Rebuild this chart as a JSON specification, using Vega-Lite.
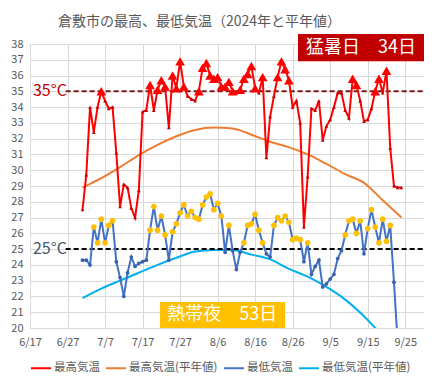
{
  "$schema": "https://vega.github.io/schema/vega-lite/v6.json",
  "width": 394,
  "height": 284,
  "autosize": {"type": "none"},
  "padding": {"left": 30, "top": 44, "right": 24, "bottom": 57},
  "background": "white",
  "config": {
    "font": "Noto Sans CJK JP",
    "view": {"stroke": null},
    "axis": {"domain": false, "ticks": false, "gridColor": "#D9D9D9", "gridWidth": 1, "labelColor": "#595959", "labelFontSize": 11, "labelOverlap": false, "labelFlush": false, "title": null},
    "axisX": {"labelOverlap": false, "labelFlush": false, "labelPadding": 8, "format": "%-m/%-d"},
    "axisY": {"labelOverlap": false, "labelPadding": 7},
    "legend": {"orient": "bottom", "direction": "horizontal", "title": null, "labelFontSize": 11.5, "labelColor": "#595959", "symbolType": "stroke", "symbolSize": 400, "symbolStrokeWidth": 2, "labelOffset": 2, "columnPadding": 2, "offset": 10}
  },
  "title": {"text": "倉敷市の最高、最低気温（2024年と平年値）", "anchor": "start", "frame": "group", "dx": 28, "offset": 5, "fontSize": 14, "fontWeight": "normal", "color": "#595959", "font": "Noto Sans CJK JP"},
  "datasets": {
    "obs": [
      {"d": "2024-07-01", "max": 27.5, "min": 24.3},
      {"d": "2024-07-02", "max": 29.7, "min": 24.3},
      {"d": "2024-07-03", "max": 34.0, "min": 24.0},
      {"d": "2024-07-04", "max": 32.4, "min": 26.4},
      {"d": "2024-07-05", "max": 34.0, "min": 25.4},
      {"d": "2024-07-06", "max": 35.0, "min": 26.9},
      {"d": "2024-07-07", "max": 34.4, "min": 25.4},
      {"d": "2024-07-08", "max": 33.9, "min": 26.5},
      {"d": "2024-07-09", "max": 34.0, "min": 26.8},
      {"d": "2024-07-10", "max": 31.1, "min": 24.2},
      {"d": "2024-07-11", "max": 27.7, "min": 23.2},
      {"d": "2024-07-12", "max": 29.1, "min": 22.0},
      {"d": "2024-07-13", "max": 28.9, "min": 23.5},
      {"d": "2024-07-14", "max": 27.6, "min": 24.5},
      {"d": "2024-07-15", "max": 27.0, "min": 23.9},
      {"d": "2024-07-16", "max": 28.7, "min": 24.1},
      {"d": "2024-07-17", "max": 33.7, "min": 24.2},
      {"d": "2024-07-18", "max": 33.8, "min": 24.3},
      {"d": "2024-07-19", "max": 35.4, "min": 26.2},
      {"d": "2024-07-20", "max": 33.8, "min": 27.7},
      {"d": "2024-07-21", "max": 35.1, "min": 26.2},
      {"d": "2024-07-22", "max": 35.7, "min": 27.1},
      {"d": "2024-07-23", "max": 35.3, "min": 25.9},
      {"d": "2024-07-24", "max": 32.7, "min": 24.3},
      {"d": "2024-07-25", "max": 36.0, "min": 26.1},
      {"d": "2024-07-26", "max": 35.2, "min": 26.6},
      {"d": "2024-07-27", "max": 36.9, "min": 27.3},
      {"d": "2024-07-28", "max": 35.3, "min": 27.8},
      {"d": "2024-07-29", "max": 34.7, "min": 27.1},
      {"d": "2024-07-30", "max": 34.5, "min": 27.4},
      {"d": "2024-07-31", "max": 34.4, "min": 27.0},
      {"d": "2024-08-01", "max": 35.0, "min": 26.9},
      {"d": "2024-08-02", "max": 36.5, "min": 27.8},
      {"d": "2024-08-03", "max": 36.8, "min": 28.3},
      {"d": "2024-08-04", "max": 36.0, "min": 28.5},
      {"d": "2024-08-05", "max": 35.8, "min": 27.5},
      {"d": "2024-08-06", "max": 35.9, "min": 27.9},
      {"d": "2024-08-07", "max": 35.3, "min": 27.1},
      {"d": "2024-08-08", "max": 35.3, "min": 24.8},
      {"d": "2024-08-09", "max": 35.6, "min": 26.5},
      {"d": "2024-08-10", "max": 35.0, "min": 24.9},
      {"d": "2024-08-11", "max": 34.9, "min": 23.7},
      {"d": "2024-08-12", "max": 35.1, "min": 24.8},
      {"d": "2024-08-13", "max": 35.8, "min": 25.4},
      {"d": "2024-08-14", "max": 36.1, "min": 26.5},
      {"d": "2024-08-15", "max": 36.6, "min": 26.6},
      {"d": "2024-08-16", "max": 35.2, "min": 27.2},
      {"d": "2024-08-17", "max": 34.9, "min": 26.2},
      {"d": "2024-08-18", "max": 35.9, "min": 25.4},
      {"d": "2024-08-19", "max": 30.8, "min": 24.7},
      {"d": "2024-08-20", "max": 33.4, "min": 24.5},
      {"d": "2024-08-21", "max": 34.7, "min": 26.5},
      {"d": "2024-08-22", "max": 35.9, "min": 27.0},
      {"d": "2024-08-23", "max": 36.9, "min": 26.8},
      {"d": "2024-08-24", "max": 36.4, "min": 27.1},
      {"d": "2024-08-25", "max": 35.7, "min": 26.7},
      {"d": "2024-08-26", "max": 34.0, "min": 25.6},
      {"d": "2024-08-27", "max": 34.4, "min": 25.7},
      {"d": "2024-08-28", "max": 33.0, "min": 25.6},
      {"d": "2024-08-29", "max": 26.4, "min": 24.2},
      {"d": "2024-08-30", "max": 29.6, "min": 25.4},
      {"d": "2024-08-31", "max": 33.9, "min": 23.4},
      {"d": "2024-09-01", "max": 33.8, "min": 23.9},
      {"d": "2024-09-02", "max": 34.4, "min": 24.3},
      {"d": "2024-09-03", "max": 31.9, "min": 22.6},
      {"d": "2024-09-04", "max": 32.8, "min": 22.8},
      {"d": "2024-09-05", "max": 33.2, "min": 23.1},
      {"d": "2024-09-06", "max": 34.0, "min": 23.4},
      {"d": "2024-09-07", "max": 34.9, "min": 24.4},
      {"d": "2024-09-08", "max": 34.9, "min": 24.9},
      {"d": "2024-09-09", "max": 33.8, "min": 25.9},
      {"d": "2024-09-10", "max": 33.3, "min": 26.8},
      {"d": "2024-09-11", "max": 35.8, "min": 26.9},
      {"d": "2024-09-12", "max": 35.4, "min": 26.0},
      {"d": "2024-09-13", "max": 34.4, "min": 26.8},
      {"d": "2024-09-14", "max": 33.1, "min": 24.7},
      {"d": "2024-09-15", "max": 33.2, "min": 26.3},
      {"d": "2024-09-16", "max": 33.9, "min": 27.5},
      {"d": "2024-09-17", "max": 35.0, "min": 26.4},
      {"d": "2024-09-18", "max": 35.8, "min": 25.4},
      {"d": "2024-09-19", "max": 34.9, "min": 26.9},
      {"d": "2024-09-20", "max": 36.3, "min": 25.5},
      {"d": "2024-09-21", "max": 31.4, "min": 26.5},
      {"d": "2024-09-22", "max": 29.0, "min": 22.9},
      {"d": "2024-09-23", "max": 28.9, "min": 19.0},
      {"d": "2024-09-24", "max": 28.9}
    ],
    "normal": [
      {"d": "2024-07-01", "nmax": 28.9, "nmin": 21.9},
      {"d": "2024-07-06", "nmax": 29.5, "nmin": 22.5},
      {"d": "2024-07-11", "nmax": 30.2, "nmin": 23.0},
      {"d": "2024-07-16", "nmax": 30.95, "nmin": 23.5},
      {"d": "2024-07-21", "nmax": 31.6, "nmin": 24.0},
      {"d": "2024-07-26", "nmax": 32.15, "nmin": 24.45},
      {"d": "2024-07-31", "nmax": 32.55, "nmin": 24.85},
      {"d": "2024-08-05", "nmax": 32.7, "nmin": 24.95},
      {"d": "2024-08-10", "nmax": 32.65, "nmin": 24.95},
      {"d": "2024-08-15", "nmax": 32.25, "nmin": 24.65},
      {"d": "2024-08-20", "nmax": 31.8, "nmin": 24.35},
      {"d": "2024-08-25", "nmax": 31.45, "nmin": 23.75},
      {"d": "2024-08-30", "nmax": 31.0, "nmin": 23.25},
      {"d": "2024-09-04", "nmax": 30.4, "nmin": 22.6},
      {"d": "2024-09-09", "nmax": 29.75, "nmin": 21.8},
      {"d": "2024-09-14", "nmax": 29.2, "nmin": 20.75},
      {"d": "2024-09-19", "nmax": 28.1, "nmin": 19.5},
      {"d": "2024-09-24", "nmax": 27.0, "nmin": 18.3}
    ]
  },
  "encoding": {
    "x": {"type": "temporal", "title": null,
      "scale": {"type": "utc", "domain": [{"year": 2024, "month": 6, "date": 17, "utc": true}, {"year": 2024, "month": 9, "date": 30, "utc": true}]},
      "axis": {"format": "%-m/%-d", "labelOverlap": false, "labelFlush": false,
        "values": [
          {"year": 2024, "month": 6, "date": 17, "utc": true},
          {"year": 2024, "month": 6, "date": 27, "utc": true},
          {"year": 2024, "month": 7, "date": 7, "utc": true},
          {"year": 2024, "month": 7, "date": 17, "utc": true},
          {"year": 2024, "month": 7, "date": 27, "utc": true},
          {"year": 2024, "month": 8, "date": 6, "utc": true},
          {"year": 2024, "month": 8, "date": 16, "utc": true},
          {"year": 2024, "month": 8, "date": 26, "utc": true},
          {"year": 2024, "month": 9, "date": 5, "utc": true},
          {"year": 2024, "month": 9, "date": 15, "utc": true},
          {"year": 2024, "month": 9, "date": 25, "utc": true}
        ]}},
    "y": {"type": "quantitative", "title": null,
      "scale": {"domain": [20, 38], "nice": false, "zero": false},
      "axis": {"values": [20,21,22,23,24,25,26,27,28,29,30,31,32,33,34,35,36,37,38], "labelOverlap": false, "labelFlush": false}}
  },
  "layer": [
    {
      "data": {"name": "normal"},
      "mark": {"type": "line", "strokeWidth": 2, "interpolate": "monotone", "clip": true},
      "encoding": {
        "x": {"field": "d"},
        "y": {"field": "nmax"},
        "color": {"datum": "最高気温(平年値)",
          "scale": {"domain": ["最高気温", "最高気温(平年値)", "最低気温", "最低気温(平年値)"], "range": ["#FF0000", "#ED7D31", "#4472C4", "#00B0F0"]}}
      }
    },
    {
      "data": {"name": "normal"},
      "mark": {"type": "line", "strokeWidth": 2, "interpolate": "monotone", "clip": true},
      "encoding": {
        "x": {"field": "d"},
        "y": {"field": "nmin"},
        "color": {"datum": "最低気温(平年値)"}
      }
    },
    {
      "data": {"values": [{}]},
      "mark": {"type": "rule", "color": "#7A1A1A", "strokeWidth": 2, "strokeDash": [5, 3]},
      "encoding": {
        "x": {"datum": {"year": 2024, "month": 6, "date": 26, "hours": 12, "utc": true}},
        "x2": {"datum": {"year": 2024, "month": 9, "date": 30, "utc": true}},
        "y": {"datum": 35}
      }
    },
    {
      "data": {"values": [{}]},
      "mark": {"type": "rule", "color": "#000000", "strokeWidth": 2, "strokeDash": [5, 3]},
      "encoding": {
        "x": {"datum": {"year": 2024, "month": 6, "date": 26, "hours": 12, "utc": true}},
        "x2": {"datum": {"year": 2024, "month": 9, "date": 30, "utc": true}},
        "y": {"datum": 25}
      }
    },
    {
      "data": {"values": [{}]},
      "mark": {"type": "text", "text": "35°C", "color": "#C00000", "fontSize": 16, "align": "left", "baseline": "middle"},
      "encoding": {
        "x": {"datum": {"year": 2024, "month": 6, "date": 17, "hours": 19, "utc": true}},
        "y": {"datum": 35}
      }
    },
    {
      "data": {"values": [{}]},
      "mark": {"type": "text", "text": "25°C", "color": "#44546A", "fontSize": 16, "align": "left", "baseline": "middle"},
      "encoding": {
        "x": {"datum": {"year": 2024, "month": 6, "date": 17, "hours": 19, "utc": true}},
        "y": {"datum": 25}
      }
    },
    {
      "data": {"name": "obs"},
      "mark": {"type": "line", "strokeWidth": 2, "clip": true},
      "encoding": {
        "x": {"field": "d"},
        "y": {"field": "min"},
        "color": {"datum": "最低気温"}
      }
    },
    {
      "data": {"name": "obs"},
      "mark": {"type": "point", "shape": "circle", "filled": true, "size": 14, "color": "#3A62A8", "opacity": 1, "clip": true},
      "encoding": {
        "x": {"field": "d"},
        "y": {"field": "min"}
      }
    },
    {
      "data": {"name": "obs"},
      "transform": [{"filter": "datum.min >= 25"}],
      "mark": {"type": "point", "shape": "circle", "filled": true, "size": 32, "color": "#FFC000", "opacity": 1},
      "encoding": {
        "x": {"field": "d"},
        "y": {"field": "min"}
      }
    },
    {
      "data": {"name": "obs"},
      "mark": {"type": "line", "strokeWidth": 2, "clip": true},
      "encoding": {
        "x": {"field": "d"},
        "y": {"field": "max"},
        "color": {"datum": "最高気温"}
      }
    },
    {
      "data": {"name": "obs"},
      "mark": {"type": "point", "shape": "triangle-up", "filled": true, "size": 14, "color": "#C00000", "opacity": 1},
      "encoding": {
        "x": {"field": "d"},
        "y": {"field": "max"}
      }
    },
    {
      "data": {"name": "obs"},
      "transform": [{"filter": "datum.max >= 35"}],
      "mark": {"type": "point", "shape": "triangle-up", "filled": true, "size": 95, "color": "#FF0000", "opacity": 1},
      "encoding": {
        "x": {"field": "d"},
        "y": {"field": "max"}
      }
    },
    {
      "data": {"values": [{}]},
      "mark": {"type": "rect", "color": "#C00000", "clip": false},
      "encoding": {
        "x": {"datum": {"year": 2024, "month": 8, "date": 27, "hours": 10, "utc": true}},
        "x2": {"datum": {"year": 2024, "month": 9, "date": 30, "utc": true}},
        "y": {"datum": 38.63},
        "y2": {"datum": 36.9}
      }
    },
    {
      "data": {"values": [{}]},
      "mark": {"type": "text", "text": "猛暑日　34日", "color": "white", "fontSize": 18, "align": "center", "baseline": "middle"},
      "encoding": {
        "x": {"datum": {"year": 2024, "month": 9, "date": 13, "hours": 5, "utc": true}},
        "y": {"datum": 37.75}
      }
    },
    {
      "data": {"values": [{}]},
      "mark": {"type": "rect", "color": "#FFC000"},
      "encoding": {
        "x": {"datum": {"year": 2024, "month": 7, "date": 21, "hours": 15, "utc": true}},
        "x2": {"datum": {"year": 2024, "month": 8, "date": 24, "utc": true}},
        "y": {"datum": 21.65},
        "y2": {"datum": 20}
      }
    },
    {
      "data": {"values": [{}]},
      "mark": {"type": "text", "text": "熱帯夜　53日", "color": "white", "fontSize": 18, "align": "center", "baseline": "middle"},
      "encoding": {
        "x": {"datum": {"year": 2024, "month": 8, "date": 7, "hours": 5, "utc": true}},
        "y": {"datum": 20.8}
      }
    }
  ]
}
